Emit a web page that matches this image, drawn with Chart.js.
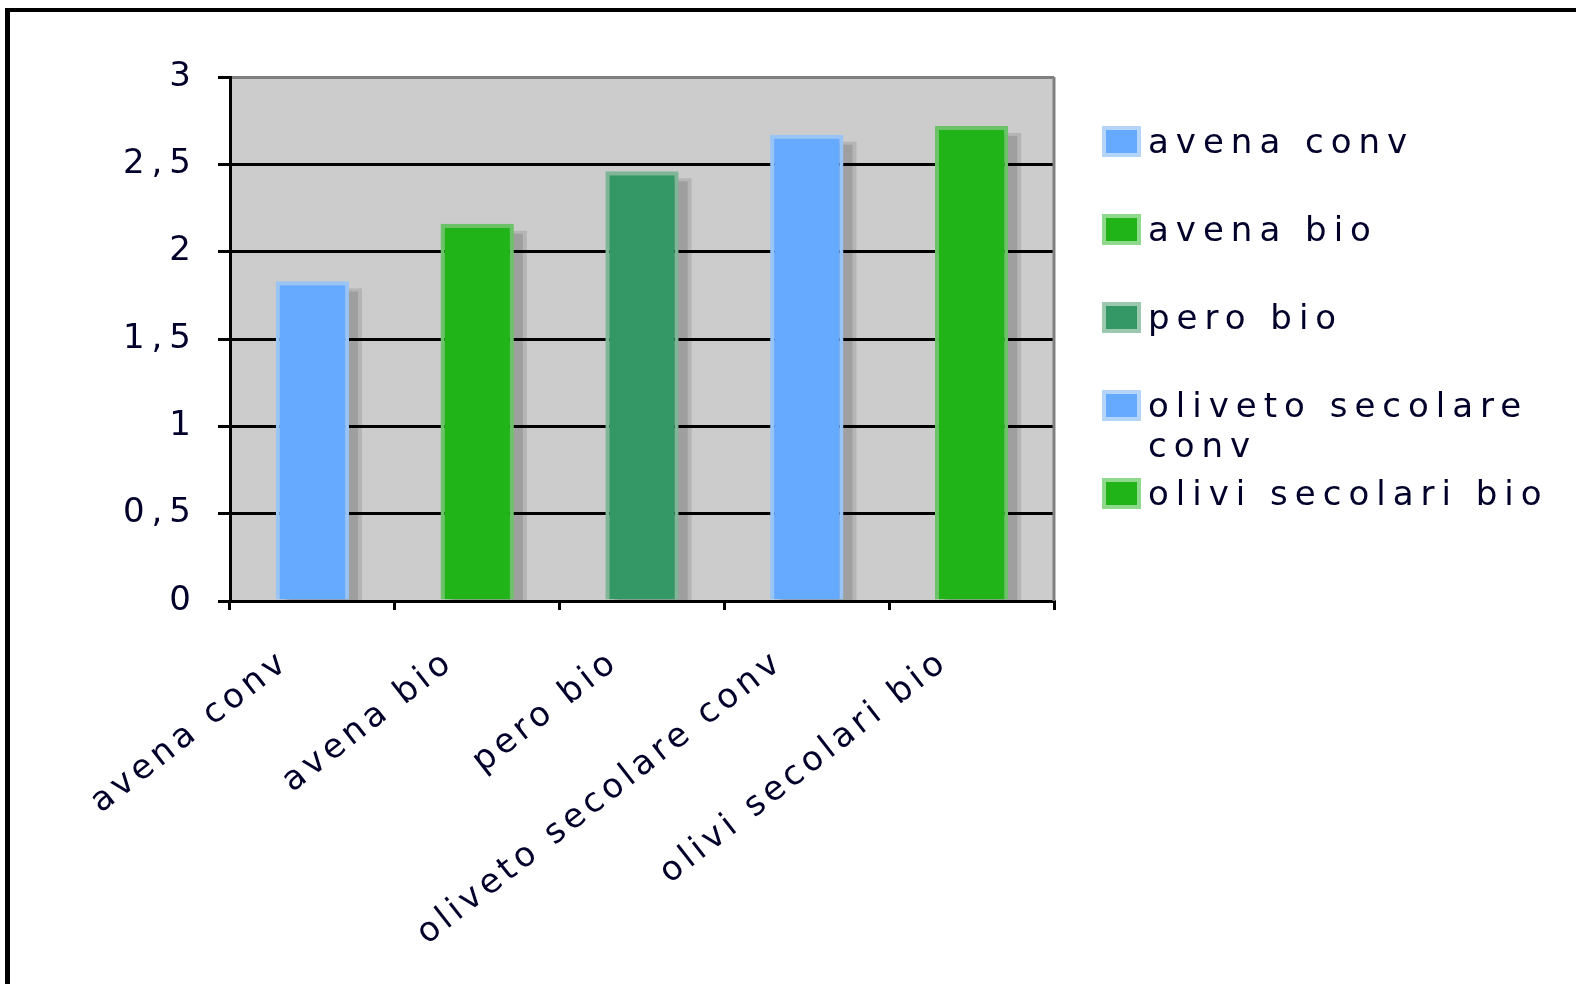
<!DOCTYPE html>
<html>
<head>
<meta charset="utf-8">
<title>avena / pero / olivi</title>
<script src="https://cdn.jsdelivr.net/npm/chart.js"></script>
<style>
    html, body { margin: 0; padding: 0; background: #fff; overflow: hidden; }
    #wrap { position: relative; width: 1576px; height: 984px; }
    #frame {
        position: absolute; left: 5px; top: 8px; width: 1600px; height: 1000px;
        border-top: 4px solid #000; border-left: 5px solid #000;
    }
    #chart { position: absolute; left: 0; top: 0; }
</style>
</head>
<body>
<div id="wrap">
    <div id="frame"></div>
    <canvas id="chart" width="1576" height="984"></canvas>
</div>
<script>
// dati
const categories = ['avena conv', 'avena bio', 'pero bio', 'oliveto secolare conv', 'olivi secolari bio'];
const values = [1.83, 2.16, 2.46, 2.67, 2.72];
const barColors = ['#66aaff', '#20b418', '#349866', '#66aaff', '#20b418'];
const edgeColors = ['#98c4f6', '#6cc268', '#7fb698', '#98c4f6', '#6cc268'];
const legendEdges = ['#b4d4fa', '#8fd88c', '#9cc8b0', '#b4d4fa', '#8fd88c'];
const yTicks = [0, 0.5, 1, 1.5, 2, 2.5, 3];

const FONT = '"DejaVu Sans", Verdana, sans-serif';
const TEXT = '#00002a';
const SPACING = '7px';
const X_SPACING = '4.5px';

// spaziatura larga delle lettere come nell'originale
const letterSpacing = {
    id: 'letterSpacing',
    beforeInit(chart) { chart.ctx.letterSpacing = SPACING; },
    beforeUpdate(chart) { chart.ctx.letterSpacing = SPACING; },
    afterLayout(chart) {
        // etichette dell'asse x un po' piu' strette
        const sx = chart.scales.x;
        if (!sx._wrapped) {
            const orig = sx.drawLabels;
            sx.drawLabels = function (area) {
                chart.ctx.letterSpacing = X_SPACING;
                orig.call(this, area);
                chart.ctx.letterSpacing = SPACING;
            };
            sx._wrapped = true;
        }
    },
    beforeDraw(chart) { chart.ctx.letterSpacing = SPACING; }
};

// sfondo grigio dell'area del grafico
const plotBackground = {
    id: 'plotBackground',
    beforeDraw(chart) {
        const { ctx, chartArea: a } = chart;
        ctx.save();
        ctx.fillStyle = '#cccccc';
        ctx.fillRect(a.left, a.top, a.right - a.left, a.bottom - a.top);
        ctx.restore();
    }
};

// ombra delle barre + bordo destro grigio
const barShadow = {
    id: 'barShadow',
    beforeDatasetsDraw(chart) {
        const { ctx, chartArea: a } = chart;
        ctx.save();
        ctx.strokeStyle = '#808080';
        ctx.lineWidth = 3;
        ctx.beginPath();
        ctx.moveTo(a.right, a.top);
        ctx.lineTo(a.right, a.bottom);
        ctx.stroke();

        ctx.beginPath();
        ctx.rect(a.left, a.top, a.right - a.left, a.bottom - a.top);
        ctx.clip();
        chart.getDatasetMeta(0).data.forEach(bar => {
            const p = bar.getProps(['x', 'y', 'base', 'width'], true);
            const left = p.x - p.width / 2;
            ctx.fillStyle = 'rgba(0,0,0,0.11)';
            ctx.fillRect(left + 13, p.y + 7, p.width, p.base - p.y);
            ctx.fillStyle = 'rgba(0,0,0,0.12)';
            ctx.fillRect(left + 9, p.y + 10, p.width, p.base - p.y);
        });
        ctx.restore();
    }
};

function wrapText(ctx, text, maxWidth) {
    const words = text.split(' ');
    const lines = [];
    let line = '';
    words.forEach(w => {
        const test = line ? line + ' ' + w : w;
        if (line && ctx.measureText(test).width > maxWidth) {
            lines.push(line);
            line = w;
        } else {
            line = test;
        }
    });
    lines.push(line);
    return lines;
}

// legenda a destra
const sideLegend = {
    id: 'sideLegend',
    afterDraw(chart) {
        const { ctx, chartArea: a } = chart;
        const x0 = a.right + 48;
        const y0 = a.top + 65;
        ctx.save();
        ctx.font = '34px ' + FONT;
        ctx.letterSpacing = SPACING;
        ctx.textBaseline = 'middle';
        ctx.textAlign = 'left';
        categories.forEach((name, i) => {
            const y = y0 + i * 88;
            ctx.fillStyle = legendEdges[i];
            ctx.fillRect(x0, y - 16, 39, 31);
            ctx.fillStyle = barColors[i];
            ctx.fillRect(x0 + 4, y - 12, 31, 23);
            ctx.fillStyle = TEXT;
            wrapText(ctx, name, 425).forEach((line, j) => {
                ctx.fillText(line, x0 + 46, y + 2 + j * 40);
            });
        });
        ctx.restore();
    }
};

new Chart(document.getElementById('chart').getContext('2d'), {
    type: 'bar',
    data: {
        labels: categories,
        datasets: [{
            data: values,
            backgroundColor: barColors,
            borderColor: edgeColors,
            borderWidth: 4,
            borderSkipped: 'start',
            categoryPercentage: 1,
            barPercentage: 0.445
        }]
    },
    options: {
        responsive: false,
        animation: false,
        layout: { padding: { top: 77, right: 522, left: 0, bottom: 0 } },
        plugins: {
            legend: { display: false },
            tooltip: { enabled: false }
        },
        scales: {
            x: {
                grid: {
                    display: true,
                    drawOnChartArea: false,
                    tickLength: 9,
                    tickColor: '#000',
                    lineWidth: 3
                },
                border: { display: true, color: '#000', width: 3 },
                ticks: {
                    minRotation: 38,
                    maxRotation: 38,
                    padding: 32,
                    labelOffset: -27,
                    color: TEXT,
                    font: { family: FONT, size: 34 }
                },
                afterFit: s => {
                    s.height = 383;
                    s.paddingLeft = 0;
                    s.paddingRight = 0;
                }
            },
            y: {
                min: yTicks[0],
                max: yTicks[yTicks.length - 1],
                afterBuildTicks: s => { s.ticks = yTicks.map(v => ({ value: v })); },
                grid: {
                    color: c => (c.tick && c.tick.value === 3 ? '#808080' : '#000'),
                    tickColor: '#000',
                    tickLength: 12,
                    lineWidth: 3
                },
                border: { display: true, color: '#000', width: 3 },
                ticks: {
                    padding: 20,
                    color: TEXT,
                    font: { family: FONT, size: 34 },
                    callback: v => String(v).replace('.', ',')
                },
                afterFit: s => { s.width = 230; }
            }
        }
    },
    plugins: [letterSpacing, plotBackground, barShadow, sideLegend]
});
</script>
</body>
</html>
